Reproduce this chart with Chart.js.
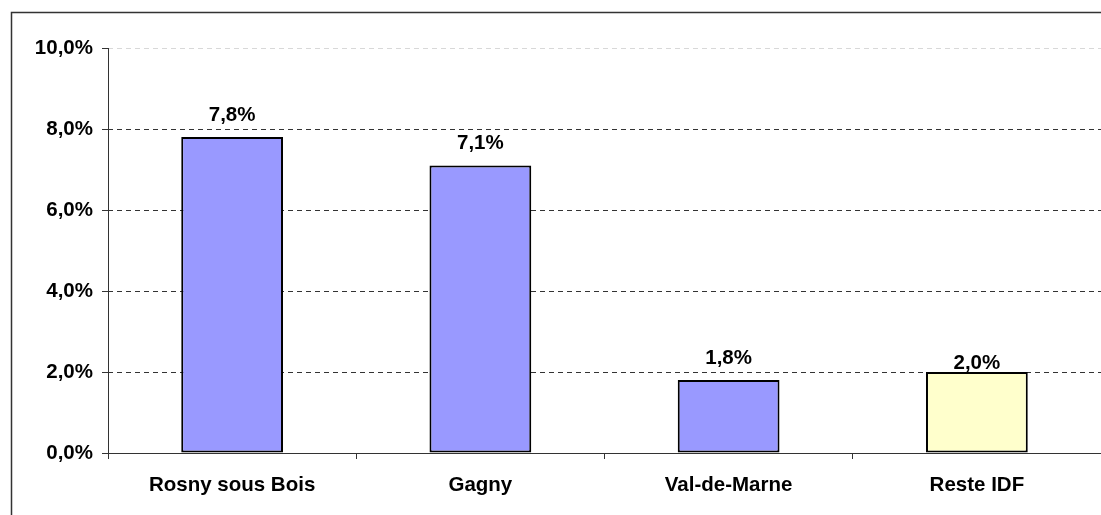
<!DOCTYPE html>
<html>
<head>
<meta charset="utf-8">
<script src="https://cdn.jsdelivr.net/npm/chart.js@4.4.1/dist/chart.umd.min.js"></script>
<style>
  html, body { margin: 0; padding: 0; background: #fff; }
  #wrap { width: 1101px; height: 515px; position: relative; }
</style>
</head>
<body>
<div id="wrap"><canvas id="chart" width="1101" height="515"></canvas></div>
<script>
// --- DATA ---
const categories = ['Rosny sous Bois', 'Gagny', 'Val-de-Marne', 'Reste IDF'];
const shares = [7.8, 7.1, 1.8, 2.0];
const barColors = ['#9999FF', '#9999FF', '#9999FF', '#FFFFCC'];
const yTicks = [0, 2, 4, 6, 8, 10];

// label gap above each bar (the last one sits almost on its bar)
const labelGaps = [16, 16, 16, 3];

const fmt = (v) => v.toFixed(1).replace('.', ',') + '%';
const FONT = "'Liberation Sans', Arial, sans-serif";
const FSIZE = 20.5;

// outer frame, cropped on the right and bottom like the original
const framePlugin = {
    id: 'frame',
    afterDraw(chart) {
        const c = chart.ctx;
        c.save();
        c.setLineDash([]);
        c.strokeStyle = '#333';
        c.lineWidth = 1.5;
        c.strokeRect(11.5, 12.5, 1200, 600);
        c.restore();
    }
};

// value labels above bars
const valueLabels = {
    id: 'valueLabels',
    afterDatasetsDraw(chart) {
        const c = chart.ctx;
        const meta = chart.getDatasetMeta(0);
        c.save();
        c.font = 'bold ' + FSIZE + 'px ' + FONT;
        c.fillStyle = '#000';
        c.textAlign = 'center';
        c.textBaseline = 'alphabetic';
        meta.data.forEach((bar, i) => {
            c.fillText(fmt(shares[i]), bar.x, bar.y - labelGaps[i]);
        });
        c.restore();
    }
};

// solid y axis line drawn over the dashed grid
const yAxisLine = {
    id: 'yAxisLine',
    beforeDatasetsDraw(chart) {
        const c = chart.ctx;
        const a = chart.chartArea;
        c.save();
        c.setLineDash([]);
        c.strokeStyle = '#333';
        c.lineWidth = 1;
        c.beginPath();
        c.moveTo(a.left + 0.5, a.top);
        c.lineTo(a.left + 0.5, a.bottom + 6);
        c.stroke();
        c.restore();
    }
};

new Chart(document.getElementById('chart'), {
    type: 'bar',
    data: {
        labels: categories,
        datasets: [{
            data: shares,
            backgroundColor: barColors,
            borderColor: '#000',
            borderWidth: 2,
            borderSkipped: false,
            barPercentage: 0.41,
            categoryPercentage: 1
        }]
    },
    options: {
        responsive: false,
        animation: false,
        devicePixelRatio: 1,
        layout: { padding: { top: 48, right: 0, bottom: 0, left: 0 } },
        plugins: {
            legend: { display: false },
            tooltip: { enabled: false }
        },
        scales: {
            x: {
                offset: true,
                grid: {
                    offset: true,
                    drawOnChartArea: false,
                    drawTicks: true,
                    tickLength: 6,
                    tickColor: '#333'
                },
                border: { display: true, color: '#333', width: 1 },
                ticks: {
                    color: '#000',
                    padding: 14,
                    font: { family: FONT, size: FSIZE, weight: 'bold' }
                },
                afterFit(scale) { scale.height = 62; }
            },
            y: {
                min: 0,
                max: 10,
                afterBuildTicks(scale) {
                    scale.ticks = yTicks.map(v => ({ value: v }));
                },
                grid: {
                    color: (ctx) => {
                        const v = ctx.tick ? ctx.tick.value : null;
                        if (v === 0) return 'rgba(0,0,0,0)';
                        if (v === 10) return '#d8d8d8';
                        return '#333';
                    },
                    tickLength: 6,
                    tickColor: '#333',
                    tickBorderDash: [],
                    lineWidth: 1
                },
                border: { display: false, dash: [5, 4] },
                ticks: {
                    color: '#000',
                    padding: 9,
                    font: { family: FONT, size: FSIZE, weight: 'bold' },
                    callback: (v) => fmt(v)
                },
                afterFit(scale) { scale.width = 108; }
            }
        }
    },
    plugins: [framePlugin, yAxisLine, valueLabels]
});
</script>
</body>
</html>
